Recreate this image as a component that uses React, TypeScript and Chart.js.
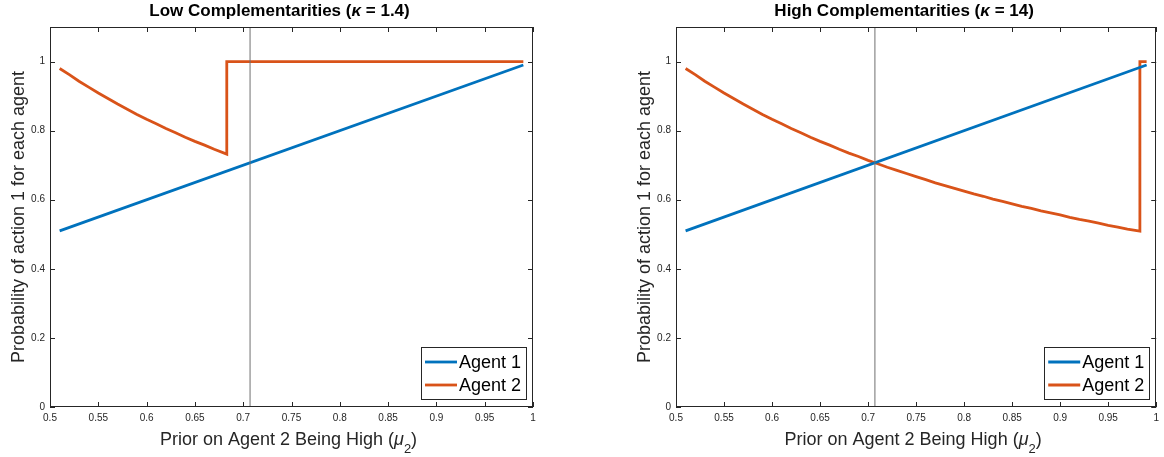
import React, { useEffect, useRef } from "react";
import { Chart, registerables } from "chart.js";

Chart.register(...registerables);

// ---- Data ----
const agent1Mu = [0.51, 0.99];
const agent1Prob = [0.51, 0.99];

const lowMu = [0.51, 0.52, 0.53, 0.54, 0.55, 0.56, 0.57, 0.58, 0.59, 0.6, 0.61, 0.62, 0.63, 0.64, 0.65, 0.66, 0.67, 0.683, 0.683, 0.99];
const lowAgent2 = [0.98, 0.962, 0.943, 0.926, 0.909, 0.893, 0.877, 0.862, 0.847, 0.833, 0.82, 0.806, 0.794, 0.781, 0.769, 0.758, 0.746, 0.732, 1.0, 1.0];

const highMu = [0.51, 0.52, 0.53, 0.54, 0.55, 0.56, 0.57, 0.58, 0.59, 0.6, 0.61, 0.62, 0.63, 0.64, 0.65, 0.66, 0.67, 0.68, 0.69, 0.7, 0.71, 0.72, 0.73, 0.74, 0.75, 0.76, 0.77, 0.78, 0.79, 0.8, 0.81, 0.82, 0.83, 0.84, 0.85, 0.86, 0.87, 0.88, 0.89, 0.9, 0.91, 0.92, 0.93, 0.94, 0.95, 0.96, 0.97, 0.983, 0.983, 0.99];
const highAgent2 = [0.98, 0.962, 0.943, 0.926, 0.909, 0.893, 0.877, 0.862, 0.847, 0.833, 0.82, 0.806, 0.794, 0.781, 0.769, 0.758, 0.746, 0.735, 0.725, 0.714, 0.704, 0.694, 0.685, 0.676, 0.667, 0.658, 0.649, 0.641, 0.633, 0.625, 0.617, 0.61, 0.602, 0.595, 0.588, 0.581, 0.575, 0.568, 0.562, 0.556, 0.549, 0.543, 0.538, 0.532, 0.526, 0.521, 0.515, 0.509, 1.0, 1.0];

const refLineX = 0.7071;
const xTicks = [0.5, 0.55, 0.6, 0.65, 0.7, 0.75, 0.8, 0.85, 0.9, 0.95, 1];
const yTicks = [0, 0.2, 0.4, 0.6, 0.8, 1];
const seriesNames = ["Agent 1", "Agent 2"];
const titlesPre = ["Low Complementarities (", "High Complementarities ("];
const titlesPost = [" = 1.4)", " = 14)"];

const BLUE = "#0072BD";
const ORANGE = "#D95319";
const TXT = "#262626";
const FONT = "'Liberation Sans', Arial, Helvetica, sans-serif";

const zip = (xs: number[], ys: number[]) => xs.map((x, i) => ({ x, y: ys[i] }));

function makePlugin(idx: number) {
  return {
    id: "matlabDecor" + idx,
    afterDraw(chart: any) {
      const { ctx, chartArea, scales } = chart;
      const { left, right, top, bottom } = chartArea;
      const xs = scales.x;
      const ys = scales.y;
      ctx.save();
      // box
      ctx.strokeStyle = TXT;
      ctx.lineWidth = 1;
      ctx.strokeRect(Math.round(left) + 0.5, Math.round(top) + 0.5, Math.round(right - left) - 1, Math.round(bottom - top) - 1);
      // inward ticks
      const tl = 5;
      ctx.beginPath();
      xTicks.forEach((v) => {
        const px = Math.round(xs.getPixelForValue(v)) + 0.5;
        ctx.moveTo(px, bottom);
        ctx.lineTo(px, bottom - tl);
        ctx.moveTo(px, top);
        ctx.lineTo(px, top + tl);
      });
      yTicks.forEach((v) => {
        const py = Math.round(ys.getPixelForValue(v)) + 0.5;
        ctx.moveTo(left, py);
        ctx.lineTo(left + tl, py);
        ctx.moveTo(right, py);
        ctx.lineTo(right - tl, py);
      });
      ctx.stroke();

      // title
      const cx = (left + right) / 2;
      ctx.fillStyle = "#000";
      ctx.textBaseline = "middle";
      ctx.textAlign = "left";
      const fb = "bold 17px " + FONT;
      const fbi = "italic bold 17px " + FONT;
      ctx.font = fb;
      const w1 = ctx.measureText(titlesPre[idx]).width;
      const w3 = ctx.measureText(titlesPost[idx]).width;
      ctx.font = fbi;
      const w2 = ctx.measureText("κ").width;
      let tx = cx - 12 - (w1 + w2 + w3) / 2;
      const ty = 11;
      ctx.font = fb;
      ctx.fillText(titlesPre[idx], tx, ty);
      tx += w1;
      ctx.font = fbi;
      ctx.fillText("κ", tx, ty);
      tx += w2;
      ctx.font = fb;
      ctx.fillText(titlesPost[idx], tx, ty);

      // x axis title
      ctx.fillStyle = TXT;
      const f18 = "18px " + FONT;
      const f18i = "italic 18px " + FONT;
      const f13 = "13px " + FONT;
      const p1 = "Prior on Agent 2 Being High (";
      ctx.font = f18;
      const a1 = ctx.measureText(p1).width;
      const a3 = ctx.measureText(")").width;
      ctx.font = f18i;
      const a2 = ctx.measureText("μ").width;
      ctx.font = f13;
      const a4 = ctx.measureText("2").width;
      let xx = cx - 3 - (a1 + a2 + a4 + a3) / 2;
      const xy = 440;
      ctx.font = f18;
      ctx.fillText(p1, xx, xy);
      xx += a1;
      ctx.font = f18i;
      ctx.fillText("μ", xx, xy);
      xx += a2;
      ctx.font = f13;
      ctx.fillText("2", xx, xy + 9);
      xx += a4;
      ctx.font = f18;
      ctx.fillText(")", xx, xy);

      // y axis title
      ctx.save();
      ctx.translate(left - 31, (top + bottom) / 2);
      ctx.rotate(-Math.PI / 2);
      ctx.textAlign = "center";
      ctx.font = f18;
      ctx.fillText("Probability of action 1 for each agent", 0, 0);
      ctx.restore();

      // legend
      const lw = 105;
      const lh = 52;
      const lx = right - 7 - lw;
      const ly = bottom - 8 - lh;
      ctx.fillStyle = "#fff";
      ctx.fillRect(lx, ly, lw, lh);
      ctx.strokeStyle = TXT;
      ctx.lineWidth = 1;
      ctx.strokeRect(Math.round(lx) + 0.5, Math.round(ly) + 0.5, lw, lh);
      const colors = [BLUE, ORANGE];
      seriesNames.forEach((name, i) => {
        const ry = ly + 15 + i * 23;
        ctx.strokeStyle = colors[i];
        ctx.lineWidth = 2.8;
        ctx.beginPath();
        ctx.moveTo(lx + 4, ry);
        ctx.lineTo(lx + 36, ry);
        ctx.stroke();
        ctx.fillStyle = "#000";
        ctx.font = f18;
        ctx.textAlign = "left";
        ctx.textBaseline = "middle";
        ctx.fillText(name, lx + 38, ry + 1);
      });
      ctx.restore();
    },
  };
}

function Panel({ idx }: { idx: number }) {
  const ref = useRef<HTMLCanvasElement | null>(null);
  useEffect(() => {
    if (!ref.current) return;
    const a2mu = idx === 0 ? lowMu : highMu;
    const a2 = idx === 0 ? lowAgent2 : highAgent2;
    const chart = new Chart(ref.current, {
      type: "line",
      data: {
        datasets: [
          {
            label: "ref",
            data: [
              { x: refLineX, y: 0 },
              { x: refLineX, y: 1.1 },
            ],
            borderColor: "#707070",
            borderWidth: 1,
            pointRadius: 0,
            tension: 0,
          },
          {
            label: seriesNames[0],
            data: zip(agent1Mu, agent1Prob),
            borderColor: BLUE,
            borderWidth: 2.8,
            pointRadius: 0,
            tension: 0,
          },
          {
            label: seriesNames[1],
            data: zip(a2mu, a2),
            borderColor: ORANGE,
            borderWidth: 2.8,
            pointRadius: 0,
            tension: 0,
            borderJoinStyle: "miter",
          },
        ],
      },
      options: {
        responsive: false,
        animation: false,
        devicePixelRatio: 1,
        parsing: false,
        layout: { padding: { left: idx === 0 ? 0 : 44, right: idx === 0 ? 49 : 6, top: 27, bottom: 0 } },
        plugins: { legend: { display: false }, title: { display: false }, tooltip: { enabled: false } },
        scales: {
          x: {
            type: "linear",
            min: 0.5,
            max: 1,
            grid: { display: false, drawTicks: false },
            border: { display: false },
            afterBuildTicks: (s: any) => {
              s.ticks = xTicks.map((v) => ({ value: v }));
            },
            afterFit: (s: any) => {
              s.height = 50;
            },
            ticks: {
              padding: 5,
              color: TXT,
              font: { size: 10, family: FONT },
              maxRotation: 0,
              autoSkip: false,
              callback: (v: any) => String(+Number(v).toFixed(2)),
            },
          },
          y: {
            type: "linear",
            min: 0,
            max: 1.1,
            grid: { display: false, drawTicks: false },
            border: { display: false },
            afterBuildTicks: (s: any) => {
              s.ticks = yTicks.map((v) => ({ value: v }));
            },
            afterFit: (s: any) => {
              s.width = 50;
            },
            ticks: {
              padding: 5,
              color: TXT,
              font: { size: 10, family: FONT },
              callback: (v: any) => String(+Number(v).toFixed(1)),
            },
          },
        },
      } as any,
      plugins: [makePlugin(idx)],
    });
    return () => chart.destroy();
  }, [idx]);
  return <canvas ref={ref} width={582} height={457} style={{ display: "block" }} />;
}

export default function App() {
  return (
    <div style={{ position: "absolute", left: 0, top: 0, width: 1164, height: 457, display: "flex", background: "#fff" }}>
      <Panel idx={0} />
      <Panel idx={1} />
    </div>
  );
}
